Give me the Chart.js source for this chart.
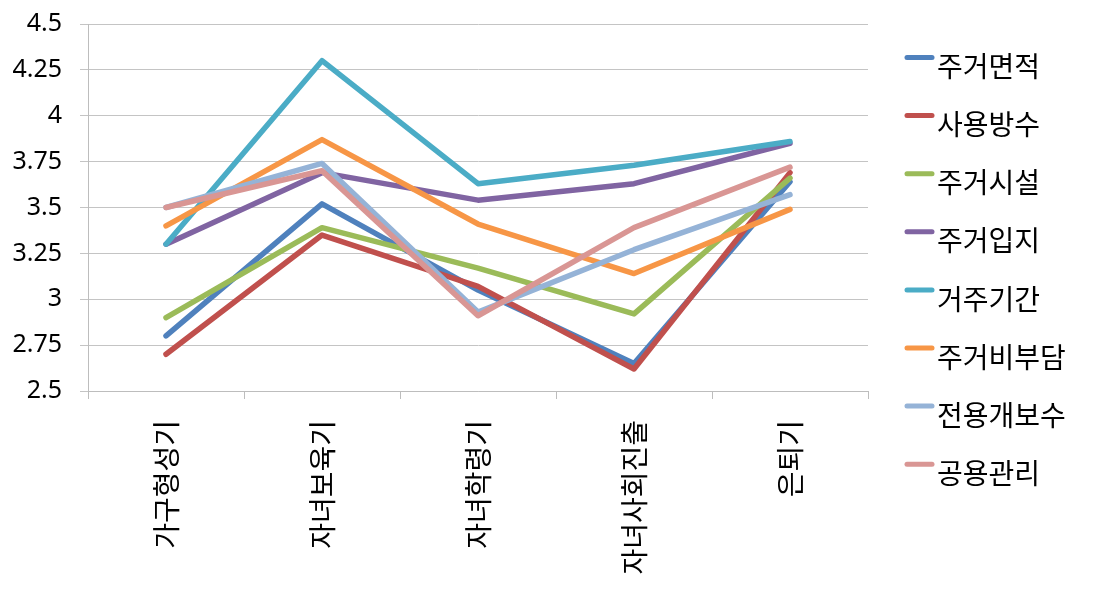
<!DOCTYPE html>
<html>
<head>
<meta charset="utf-8">
<script src="https://cdn.jsdelivr.net/npm/chart.js@4/dist/chart.umd.min.js"></script>
<style>
  html, body { margin: 0; padding: 0; background: #fff; }
  #wrap { width: 1106px; height: 593px; position: relative; }
</style>
</head>
<body>
<div id="wrap"><canvas id="lifeChart"></canvas></div>
<script>
// categories and series
const categories = ['가구형성기', '자녀보육기', '자녀학령기', '자녀사회진출', '은퇴기'];
const seriesNames = ['주거면적', '사용방수', '주거시설', '주거입지', '거주기간', '주거비부담', '전용개보수', '공용관리'];

const areaValues     = [2.80, 3.52, 3.05, 2.65, 3.64];
const roomValues     = [2.70, 3.35, 3.07, 2.62, 3.69];
const facilityValues = [2.90, 3.39, 3.17, 2.92, 3.66];
const locationValues = [3.30, 3.69, 3.54, 3.63, 3.85];
const durationValues = [3.30, 4.30, 3.63, 3.73, 3.86];
const costValues     = [3.40, 3.87, 3.41, 3.14, 3.49];
const repairValues   = [3.50, 3.74, 2.93, 3.27, 3.57];
const commonValues   = [3.50, 3.70, 2.91, 3.39, 3.72];

const yTickLabels = ['2.5', '2.75', '3', '3.25', '3.5', '3.75', '4', '4.25', '4.5'];

const seriesValues = [areaValues, roomValues, facilityValues, locationValues,
                      durationValues, costValues, repairValues, commonValues];
const seriesColors = ['#4F81BD', '#C0504D', '#9BBB59', '#8064A2',
                      '#4BACC6', '#F79646', '#95B3D7', '#D99694'];

const fontFamily = "'Noto Sans CJK KR', 'Noto Sans', sans-serif";

// Excel-style legend on the right, drawn by hand
const sideLegend = {
    id: 'sideLegend',
    afterDraw(chart) {
        const ctx = chart.ctx;
        ctx.save();
        ctx.font = "28px " + fontFamily;
        ctx.textBaseline = 'middle';
        ctx.textAlign = 'left';
        chart.data.datasets.forEach((ds, i) => {
            const y = 57.5 + i * 58.1;
            ctx.strokeStyle = ds.borderColor;
            ctx.lineWidth = 5;
            ctx.lineCap = 'round';
            ctx.beginPath();
            ctx.moveTo(907, y);
            ctx.lineTo(932, y);
            ctx.stroke();
            ctx.fillStyle = '#000';
            ctx.fillText(ds.label, 937, y + 9);
        });
        ctx.restore();
    }
};

new Chart(document.getElementById('lifeChart'), {
    type: 'line',
    data: {
        labels: categories,
        datasets: seriesNames.map((name, i) => ({
            label: name,
            data: seriesValues[i],
            borderColor: seriesColors[i],
            backgroundColor: seriesColors[i],
            borderWidth: 5.5,
            borderCapStyle: 'round',
            borderJoinStyle: 'round',
            pointRadius: 0,
            tension: 0,
            order: seriesNames.length - i // later series on top, like Excel
        }))
    },
    options: {
        responsive: true,
        maintainAspectRatio: false,
        animation: false,
        layout: { padding: { left: 0, right: 238, top: 24, bottom: 0 } },
        plugins: {
            legend: { display: false },
            tooltip: { enabled: false }
        },
        scales: {
            x: {
                offset: true,
                grid: {
                    offset: true,
                    drawOnChartArea: false,
                    drawTicks: true,
                    tickLength: 8,
                    color: '#BDBDBD'
                },
                border: { color: '#BDBDBD' },
                ticks: {
                    autoSkip: false,
                    minRotation: 90,
                    maxRotation: 90,
                    padding: 21,
                    color: '#000',
                    font: { family: fontFamily, size: 28 }
                },
                afterFit(scale) {
                    scale.height = 202;
                    scale.paddingLeft = 0;
                    scale.paddingRight = 0;
                }
            },
            y: {
                min: 2.5,
                max: 4.5,
                ticks: {
                    stepSize: 0.25,
                    padding: 18,
                    color: '#000',
                    font: { family: "'Noto Sans', sans-serif", size: 25 },
                    callback: (v, i) => yTickLabels[i]
                },
                grid: { color: '#C4C4C4', tickLength: 8 },
                border: { color: '#BDBDBD' },
                afterFit(scale) {
                    scale.width = 88;
                    scale.paddingTop = 0;
                    scale.paddingBottom = 0;
                }
            }
        }
    },
    plugins: [sideLegend]
});
</script>
</body>
</html>
